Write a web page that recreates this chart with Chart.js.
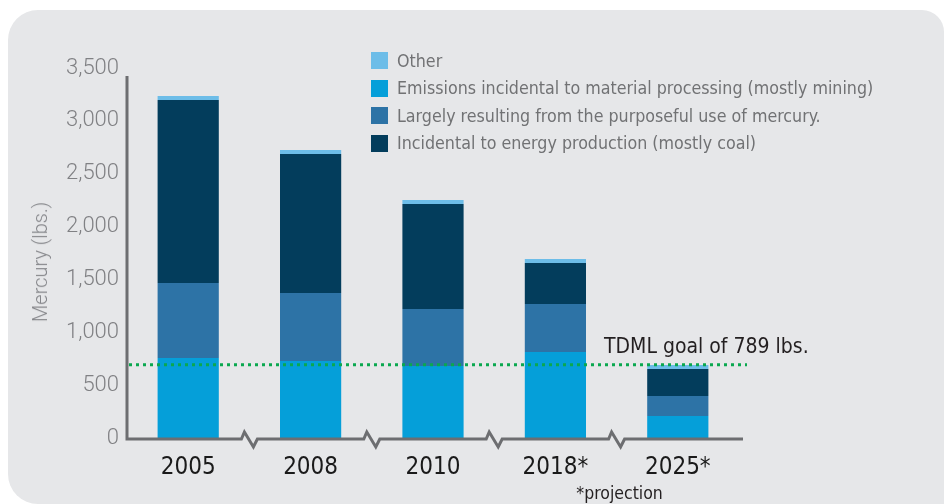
<!DOCTYPE html>
<html>
<head>
<meta charset="utf-8">
<script src="https://cdn.jsdelivr.net/npm/chart.js@4.4.1/dist/chart.umd.min.js"></script>
<style>
  body { margin: 0; background: #fff; width: 944px; height: 504px; overflow: hidden; position: relative; }
  #panel { position: absolute; left: 8px; top: 10px; width: 936px; height: 494px; background: #e6e7e9; border-radius: 30px 22px 0 30px; }
  #chart { position: absolute; left: 0; top: 0; }
  .narrow { font-family: 'Liberation Sans Narrow', 'DejaVu Sans Condensed', 'Roboto Condensed', sans-serif; }
  #legend { position: absolute; left: 371px; top: 47px; font-size: 17.7px; color: #717274; }
  #legend .row { display: flex; align-items: center; height: 27.5px; white-space: nowrap; }
  #legend .box { width: 17px; height: 17px; margin-right: 9px; flex: none; }
  #ytitle { position: absolute; left: 40px; top: 262px; transform: translate(-50%, -50%) rotate(-90deg);
            font-family: Roboto, sans-serif; font-weight: 300; font-size: 20px; color: #85868a; white-space: nowrap; }
</style>
</head>
<body>
<div id="panel"></div>
<canvas id="chart" width="944" height="504"></canvas>
<div id="legend" class="narrow"></div>
<div id="ytitle">Mercury (lbs.)</div>
<script>
// Data (lbs. of mercury)
const categories = ['2005', '2008', '2010', '2018*', '2025*'];
const miningValues = [757, 728, 681, 814, 208];      // Emissions incidental to material processing
const purposefulValues = [709, 644, 539, 454, 189];  // Largely resulting from purposeful use
const coalValues = [1731, 1315, 994, 387, 256];      // Incidental to energy production
const otherValues = [38, 37, 37, 38, 38];            // Other
const yTicks = [0, 500, 1000, 1500, 2000, 2500, 3000, 3500];
const goalValue = 693;                               // dotted line as drawn
const goalLabel = 'TDML goal of 789 lbs.';
const footnote = '*projection';

const NARROW = "'Liberation Sans Narrow', 'DejaVu Sans Condensed', 'Roboto Condensed', sans-serif";

// stack order, bottom to top
const series = [
  { label: 'Emissions incidental to material processing (mostly mining)', data: miningValues, color: '#059fd9' },
  { label: 'Largely resulting from the purposeful use of mercury.', data: purposefulValues, color: '#2d73a6' },
  { label: 'Incidental to energy production (mostly coal)', data: coalValues, color: '#033d5c' },
  { label: 'Other', data: otherValues, color: '#6dbde8' }
];
const legendOrder = [3, 0, 1, 2];

document.getElementById('legend').innerHTML = legendOrder.map(i => series[i]).map(s => `
  <div class="row"><div class="box" style="background:${s.color}"></div><span>${s.label}</span></div>
`).join('');

// axis lines with break marks, goal line and its label
const decorPlugin = {
  id: 'decor',
  afterDatasetsDraw(chart) {
    const { ctx, chartArea, scales: { x, y } } = chart;
    const y0 = y.getPixelForValue(0) + 1;
    const left = chartArea.left;
    ctx.save();

    // goal line
    const gy = y.getPixelForValue(goalValue);
    ctx.strokeStyle = '#0aa84f';
    ctx.lineWidth = 3;
    ctx.setLineDash([3, 4]);
    ctx.beginPath();
    ctx.moveTo(left + 2, gy);
    ctx.lineTo(chartArea.right + 8, gy);
    ctx.stroke();
    ctx.setLineDash([]);

    ctx.fillStyle = '#231f20';
    ctx.font = '21px ' + NARROW;
    ctx.textBaseline = 'alphabetic';
    ctx.textAlign = 'left';
    ctx.fillText(goalLabel, chartArea.right - 135, gy - 12);

    // axes
    ctx.strokeStyle = '#6d6e71';
    ctx.lineWidth = 3;
    ctx.lineJoin = 'miter';
    ctx.beginPath();
    ctx.moveTo(left, chartArea.top + 8);
    ctx.lineTo(left, y0);
    for (let i = 0; i < categories.length - 1; i++) {
      const mx = (x.getPixelForValue(i) + x.getPixelForValue(i + 1)) / 2;
      ctx.lineTo(mx - 8, y0);
      ctx.lineTo(mx - 5, y0 - 7);
      ctx.lineTo(mx + 4, y0 + 8);
      ctx.lineTo(mx + 8, y0);
    }
    ctx.lineTo(chartArea.right + 4, y0);
    ctx.stroke();

    // footnote
    const n = categories.length;
    const fx = (x.getPixelForValue(n - 2) + x.getPixelForValue(n - 1)) / 2 + 3;
    ctx.fillStyle = '#231f20';
    ctx.font = '17.5px ' + NARROW;
    ctx.textAlign = 'center';
    ctx.fillText(footnote, fx, 499);
    ctx.restore();
  }
};

const ctx = document.getElementById('chart').getContext('2d');
new Chart(ctx, {
  type: 'bar',
  data: {
    labels: categories,
    datasets: series.map(s => ({
      label: s.label,
      data: s.data,
      backgroundColor: s.color,
      borderWidth: 0,
      barPercentage: 0.5,
      categoryPercentage: 1
    }))
  },
  options: {
    responsive: false,
    devicePixelRatio: 1,
    animation: false,
    layout: { padding: { left: 0, top: 68, right: 205, bottom: 0 } },
    plugins: { legend: { display: false }, tooltip: { enabled: false } },
    scales: {
      x: {
        stacked: true,
        grid: { display: false, drawTicks: false },
        border: { display: false },
        ticks: { color: '#1a1a1a', font: { family: NARROW, size: 24 }, padding: 15, maxRotation: 0 },
        afterFit: s => { s.height = 66; }
      },
      y: {
        stacked: true,
        min: 0,
        max: 3500,
        grid: { display: false, drawTicks: false },
        border: { display: false },
        afterBuildTicks: s => { s.ticks = yTicks.map(v => ({ value: v })); },
        ticks: {
          color: '#808184',
          font: { family: 'Roboto, sans-serif', size: 22, weight: 300 },
          padding: 8,
          callback: v => v.toLocaleString('en-US')
        },
        afterFit: s => { s.width = 127; }
      }
    }
  },
  plugins: [decorPlugin]
});
</script>
</body>
</html>
